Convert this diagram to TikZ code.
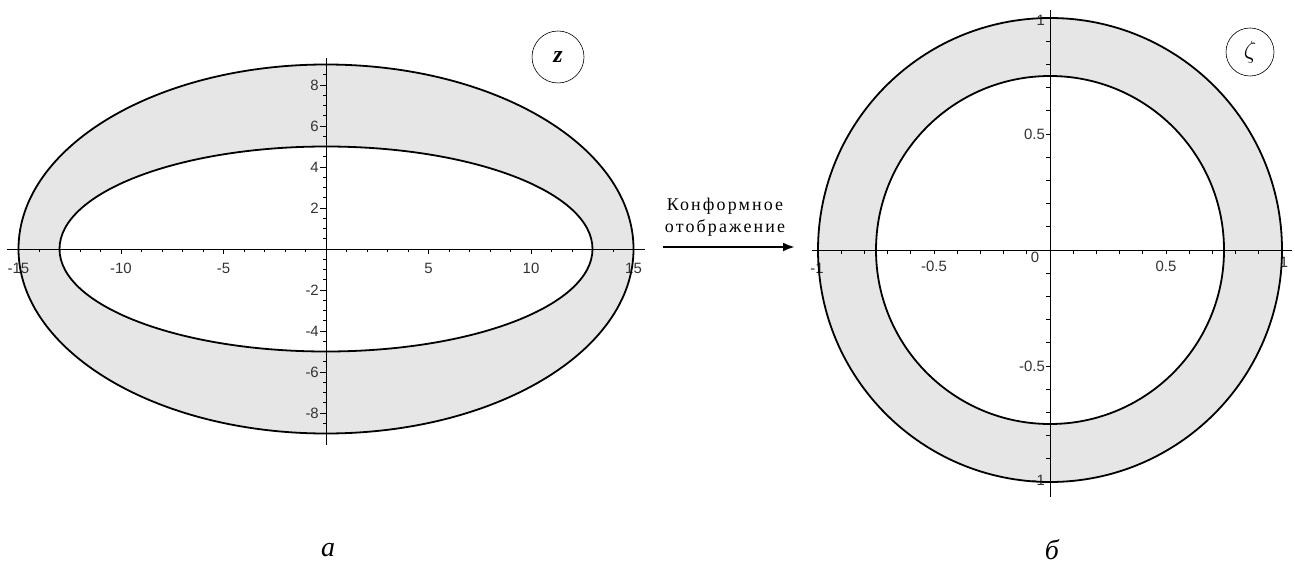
\documentclass[tikz,border=0pt]{standalone}
\usepackage{fontspec}
\setmainfont{Liberation Serif}
\newfontfamily\tickfont{Liberation Sans}
\newfontfamily\arrowfont[LetterSpace=12]{Liberation Serif}
\usetikzlibrary{arrows.meta}
\definecolor{fillg}{RGB}{230,230,230}
\begin{document}
\begin{tikzpicture}[x=1bp,y=-1bp,
  curve/.style={line width=1.8bp},
  axisline/.style={line width=0.9bp},
  tickmark/.style={line width=0.8bp},
  ticklabel/.style={font=\tickfont\fontsize{15}{15}\selectfont, text=black!80, inner sep=0pt},
  badge/.style={draw, circle, line width=0.6bp, minimum size=52bp, inner sep=0pt},
  caption/.style={font=\fontsize{28}{28}\selectfont\itshape}]
\useasboundingbox (0,0) rectangle (1295,572);
\fill[white] (0,0) rectangle (1295,572);

% ---------- left plot ----------
\begin{scope}[xshift=326bp, yshift=-249bp, x=20.5bp, y=20.5bp]
  \fill[fillg, even odd rule] (0,0) ellipse [x radius=15, y radius=9]
                              (0,0) ellipse [x radius=13, y radius=5];
  \draw[axisline] (-15.56,0) -- (15.56,0);
  \draw[axisline] (0,9.3) -- (0,-9.56);
  \foreach \i in {-15,...,15} \draw[tickmark] (\i,0) -- ++(0,-3bp);
  \foreach \i in {-15,-10,-5,5,10,15} \draw[tickmark] (\i,0) -- ++(0,-5bp);
  \foreach \j in {-9,-8.5,...,9.1} \draw[tickmark] (0,\j) -- ++(-3bp,0);
  \foreach \j in {-8,-6,-4,-2,2,4,6,8} \draw[tickmark] (0,\j) -- ++(-6bp,0);
  \foreach \i in {-15,-10,-5,5,10,15}
    \node[ticklabel] (xl\i) at (\i,0) [yshift=-19bp] {\i};
  \foreach \j in {-8,-6,-4,-2,2,4,6,8}
    \node[ticklabel, anchor=east] (yl\j) at (0,\j) [xshift=-7bp] {\j};
  \draw[curve] (0,0) ellipse [x radius=15, y radius=9];
  \draw[curve] (0,0) ellipse [x radius=13, y radius=5];
\end{scope}

% ---------- right plot ----------
\begin{scope}[xshift=1050bp, yshift=-250bp, x=232bp, y=232bp]
  \fill[fillg, even odd rule] (0,0) circle [radius=1] (0,0) circle [radius=0.75];
  \draw[axisline] (-1.026,0) -- (1.043,0);
  \draw[axisline] (0,1.034) -- (0,-1.065);
  \foreach \i in {-10,...,10} \draw[tickmark] (\i/10,0) -- ++(0,-4bp);
  \foreach \i in {-10,...,10} \draw[tickmark] (0,\i/10) -- ++(-4bp,0);
  \node[ticklabel] (rxm1) at (-1,0) [yshift=-18bp,xshift=-1bp] {-1};
  \node[ticklabel] (rxm5) at (-0.5,0) [yshift=-16bp] {-0.5};
  \node[ticklabel] (rxp5) at (0.5,0) [yshift=-16bp] {0.5};
  \node[ticklabel] (rxp1) at (1,0) [yshift=-12bp,xshift=2bp] {1};
  \node[ticklabel, anchor=east] (ryp1) at (0,1) [xshift=-5bp,yshift=-2bp] {1};
  \node[ticklabel, anchor=east] (ryp5) at (0,0.5) [xshift=-5bp] {0.5};
  \node[ticklabel, anchor=east] (rym5) at (0,-0.5) [xshift=-5bp] {-0.5};
  \node[ticklabel, anchor=east] (rym1) at (0,-1) [xshift=-5bp,yshift=2bp] {-1};
  \node[ticklabel] (r0) at (-0.065,-0.03) {0};
  \draw[curve] (0,0) circle [radius=1];
  \draw[curve] (0,0) circle [radius=0.75];
\end{scope}

% ---------- badges ----------
\node[badge] (zb) at (558,57) {\fontsize{24}{24}\selectfont\itshape\bfseries z};
\node[badge, minimum size=48bp] (zetab) at (1250,52) {\fontsize{26}{26}\selectfont$\zeta$};

% ---------- arrow ----------
\node[align=center, font=\arrowfont\fontsize{18}{22}\selectfont, inner sep=0pt] (txt) at (725,217)
  {Конформное\\отображение};
\coordinate (a1) at (663,247);
\coordinate (a2) at (795,247);
\draw[line width=2.4bp, -{Latex[length=12bp,width=9bp]}] (a1) -- (a2);

% ---------- captions ----------
\node[caption] (la) at (328,550) {а};
\node[caption] (lb) at (1052,550) {б};
\end{tikzpicture}
\end{document}
